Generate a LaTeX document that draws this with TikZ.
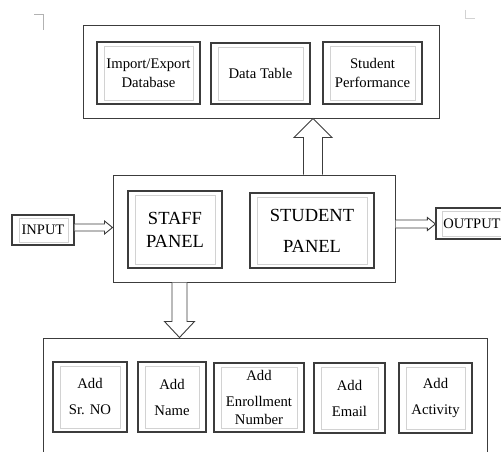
\documentclass[tikz,border=0pt]{standalone}
\usepackage{fontspec}
\setmainfont{Liberation Serif}
\usetikzlibrary{calc}
\definecolor{dk}{HTML}{3C3C3C}
\definecolor{lt}{HTML}{D2D2D2}
\begin{document}
\begin{tikzpicture}[x=1pt,y=-1pt,
  outerbox/.style={draw=dk,line width=1pt,fill=white,inner sep=0pt,minimum width=#1},
  dbox/.style={draw=dk,line width=1.2pt,inner sep=0pt,align=center,
    path picture={\draw[lt,line width=0.9pt]
      ([shift={(7,4)}]path picture bounding box.north west) rectangle
      ([shift={(-7,-4)}]path picture bounding box.south east);}},
  blockarrow/.style={draw=dk,line width=0.9pt,fill=white,line join=miter},
  tfont/.style={font=\fontsize{14.7}{19}\selectfont},
  bfont/.style={font=\fontsize{14.7}{26}\selectfont},
  pfont/.style={font=\fontsize{18.5}{23}\selectfont}]
\useasboundingbox (0,0) rectangle (501,452);
\clip (0,0) rectangle (501,452);
% corner marks
\draw[gray!60,line width=0.8pt] (34,14) -- (43,14) -- (43,30);
\draw[lt,line width=0.8pt] (465,10) -- (465,18) -- (475,18);
% top group
\node[outerbox=356pt,minimum height=92pt] (top) at (261,72) {};
\node[dbox,tfont,minimum width=103pt,minimum height=62pt] (t1) at (148.5,73) {Import/Export\\Database};
\node[dbox,tfont,minimum width=99pt,minimum height=61pt] (t2) at (260.5,73.5) {Data Table};
\node[dbox,tfont,minimum width=99pt,minimum height=62pt] (t3) at (372.5,73) {Student\\Performance};
% middle group
\node[outerbox=282pt,minimum height=107pt] (mid) at (254,228.5) {};
\node[dbox,pfont,minimum width=94pt,minimum height=77pt] (staff) at (175,229.5) {STAFF\\PANEL};
\node[dbox,font=\fontsize{18.5}{31}\selectfont,minimum width=124pt,minimum height=75pt] (stud) at (312,230.5) {STUDENT\\PANEL};
% input / output
\node[dbox,font=\fontsize{14.5}{17}\selectfont,minimum width=62pt,minimum height=30pt,
  path picture={\draw[lt,line width=0.9pt]
      ([shift={(7,3)}]path picture bounding box.north west) rectangle
      ([shift={(-6,-3)}]path picture bounding box.south east);}] (in) at (43,230) {INPUT};
\node[dbox,font=\fontsize{14.5}{17}\selectfont,minimum width=72pt,minimum height=31pt,
  path picture={\draw[lt,line width=0.9pt]
      ([shift={(6,3.5)}]path picture bounding box.north west) rectangle
      ([shift={(-6,-3)}]path picture bounding box.south east);}] (out) at (472,223.5) {OUTPUT};
% bottom group
\node[outerbox=444pt,minimum height=140pt] (bot) at (265,408) {};
\node[dbox,bfont,minimum width=74pt,minimum height=70pt] (b1) at (90,397) {Add\\Sr. NO};
\node[dbox,bfont,minimum width=68pt,minimum height=70pt] (b2) at (172,397) {Add\\Name};
\node[dbox,font=\fontsize{14.7}{26}\selectfont,minimum width=90pt,minimum height=69pt] (b3) at (259,397.5) {Add\\Enrollment\\[-8pt]Number};
\node[dbox,bfont,minimum width=71pt,minimum height=70pt] (b4) at (349.5,398) {Add\\Email};
\node[dbox,bfont,minimum width=73pt,minimum height=70pt] (b5) at (435.5,398) {Add\\Activity};
% up arrow mid -> top
\coordinate (ua) at (mid.north -| 313,0);
\coordinate (ub) at (top.south -| 313,0);
\draw[blockarrow] ($(ua)+(-9.5,0)$) -- ($(ub)+(-9.5,19)$) -- ($(ub)+(-19,19)$) -- (ub)
  -- ($(ub)+(19,19)$) -- ($(ub)+(9.5,19)$) -- ($(ua)+(9.5,0)$);
% down arrow mid -> bot
\coordinate (da) at (mid.south -| 179.5,0);
\coordinate (db) at (bot.north -| 179.5,0);
\draw[blockarrow] ($(da)+(-7.5,0)$) -- ($(db)+(-7.5,-16)$) -- ($(db)+(-15,-16)$) -- (db)
  -- ($(db)+(15,-16)$) -- ($(db)+(7.5,-16)$) -- ($(da)+(7.5,0)$);
% input arrow
\coordinate (ia) at (in.east |- 0,227.5);
\coordinate (ib) at (mid.west |- 0,227.5);
\draw[blockarrow] ($(ia)+(0,-3.5)$) -- ($(ib)+(-8,-3.5)$) -- ($(ib)+(-8,-6.5)$) -- (ib)
  -- ($(ib)+(-8,6.5)$) -- ($(ib)+(-8,3.5)$) -- ($(ia)+(0,3.5)$);
% output arrow
\coordinate (oa) at (mid.east |- 0,224);
\coordinate (ob) at (out.west |- 0,224);
\draw[blockarrow] ($(oa)+(0,-4)$) -- ($(ob)+(-8,-4)$) -- ($(ob)+(-8,-6.5)$) -- (ob)
  -- ($(ob)+(-8,6.5)$) -- ($(ob)+(-8,4)$) -- ($(oa)+(0,4)$);
\end{tikzpicture}
\end{document}
